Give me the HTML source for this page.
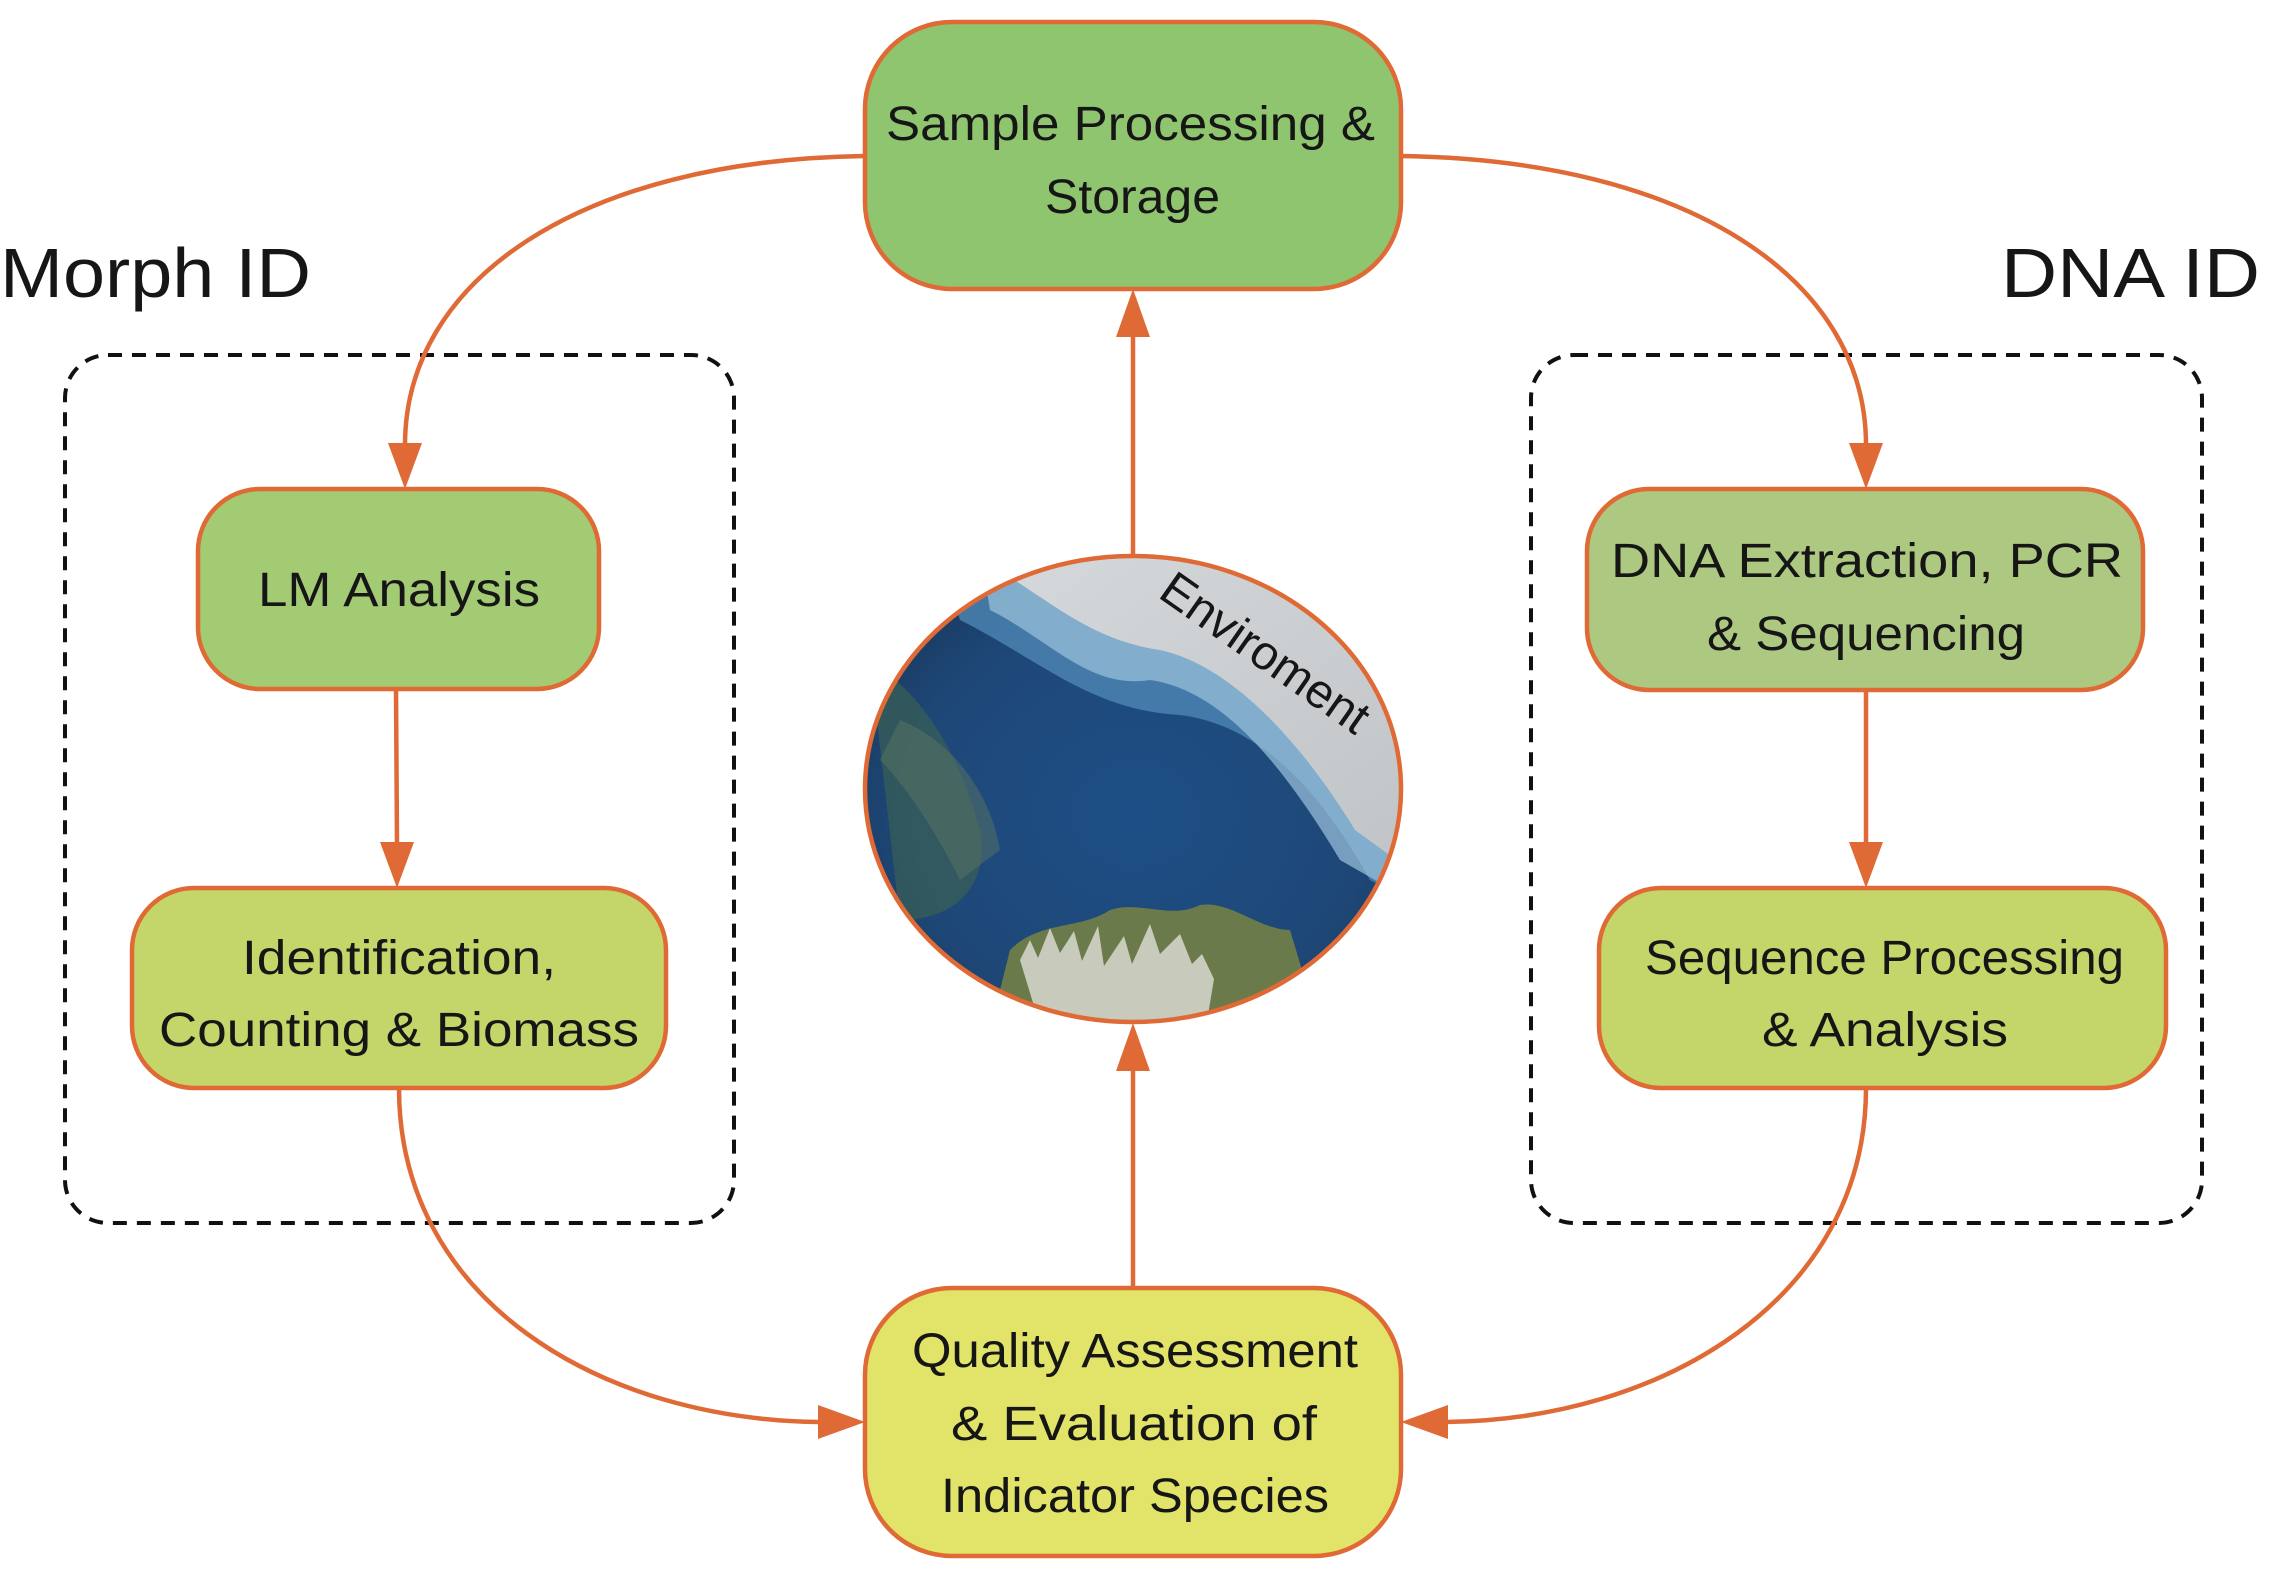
<!DOCTYPE html>
<html><head><meta charset="utf-8"><style>
html,body{margin:0;padding:0;background:#fff;}
svg{display:block;}
text{font-family:"Liberation Sans",sans-serif;fill:#161616;}
</style></head><body>
<svg width="2269" height="1575" viewBox="0 0 2269 1575" xmlns="http://www.w3.org/2000/svg">
<defs>
<clipPath id="cc"><ellipse cx="1133" cy="789" rx="268" ry="233"/></clipPath>
<radialGradient id="sea" cx="0.5" cy="0.55" r="0.6">
<stop offset="0" stop-color="#1d4f86"/><stop offset="0.7" stop-color="#1e4777"/><stop offset="1" stop-color="#17395c"/>
</radialGradient>
<linearGradient id="cloud" x1="0" y1="0" x2="1" y2="1">
<stop offset="0" stop-color="#d6d9db"/><stop offset="1" stop-color="#c0c4c7"/>
</linearGradient>
</defs>

<rect x="65" y="355" width="669" height="868" rx="43" fill="none" stroke="#111" stroke-width="4" stroke-dasharray="14,10"/>
<rect x="1531" y="355" width="671" height="868" rx="43" fill="none" stroke="#111" stroke-width="4" stroke-dasharray="14,10"/>

<text x="0" y="297" font-size="70" textLength="311" lengthAdjust="spacingAndGlyphs">Morph ID</text>
<text x="2001" y="297" font-size="70" textLength="259" lengthAdjust="spacingAndGlyphs">DNA ID</text>

<g stroke="#e06a35" stroke-width="4.5" fill="none">
<path d="M865,156 C580,160 405,280 405,445"/>
<path d="M1401,156 C1690,160 1866,280 1866,445"/>
<path d="M399,1088 C399,1300 600,1420 820,1422"/>
<path d="M1866,1088 C1866,1300 1660,1420 1446,1422"/>
<line x1="1133" y1="556" x2="1133" y2="335"/>
<line x1="1133" y1="1288" x2="1133" y2="1069"/>
<line x1="396" y1="689" x2="397" y2="845"/>
<line x1="1866" y1="690" x2="1866" y2="845"/>
</g>
<g fill="#e06a35">
<polygon points="405,489 388,443 422,443"/>
<polygon points="1866,489 1849,443 1883,443"/>
<polygon points="865,1422 818,1405 818,1439"/>
<polygon points="1401,1422 1448,1405 1448,1439"/>
<polygon points="1133,289 1116,337 1150,337"/>
<polygon points="1133,1023 1116,1071 1150,1071"/>
<polygon points="397,888 380,842 414,842"/>
<polygon points="1866,888 1849,842 1883,842"/>
</g>

<g clip-path="url(#cc)">
<rect x="860" y="550" width="550" height="480" fill="url(#sea)"/>
<path d="M870,660 C930,700 960,760 980,830 C990,880 960,920 900,920 Z" fill="#3a5f55" opacity="0.7"/>
<path d="M900,720 C950,740 990,790 1000,850 L960,880 C930,820 900,780 880,760Z" fill="#5a7462" opacity="0.5"/>
<path d="M960,620 C1040,660 1090,710 1180,715 C1260,725 1320,790 1370,880 L1410,900 L1410,550 L940,550 Z" fill="#4d86b4" opacity="0.8"/>
<path d="M990,610 C1050,640 1090,690 1150,680 C1220,690 1280,760 1340,860 L1410,900 L1410,550 L980,550 Z" fill="#9cc3dc" opacity="0.7"/>
<path d="M990,565 C1050,600 1090,640 1160,650 C1230,665 1300,740 1355,830 L1410,870 L1410,550 L980,550 Z" fill="url(#cloud)"/>
<path d="M1010,950 C1040,920 1080,930 1110,910 C1140,900 1170,920 1200,905 C1230,900 1260,930 1290,930 L1320,1030 L990,1030 Z" fill="#6b7a4a"/>
<path d="M1020,960 l10,-20 l8,18 l12,-30 l10,25 l14,-22 l8,30 l16,-35 l6,40 l20,-30 l8,28 l18,-40 l10,30 l20,-20 l12,30 l10,-10 l12,25 l-10,60 l-160,0Z" fill="#d8d8d0" opacity="0.85"/>
</g>
<ellipse cx="1133" cy="789" rx="268" ry="233" fill="none" stroke="#e06a35" stroke-width="4.5"/>
<text x="0" y="0" font-size="48" transform="translate(1256,666) rotate(35)" text-anchor="middle">Enviroment</text>

<g stroke="#e06a35" stroke-width="4.5">
<rect x="865" y="22" width="536" height="267" rx="87" fill="#8fc56f"/>
<rect x="198" y="489" width="401" height="200" rx="62" fill="#a3cb74"/>
<rect x="132" y="888" width="534" height="200" rx="62" fill="#c4d66a"/>
<rect x="1587" y="489" width="556" height="201" rx="62" fill="#adc981"/>
<rect x="1599" y="888" width="567" height="200" rx="62" fill="#c4d66a"/>
<rect x="865" y="1288" width="536" height="268" rx="87" fill="#e2e46a"/>
</g>

<g font-size="48">
<text x="886" y="140" textLength="489" lengthAdjust="spacingAndGlyphs">Sample Processing &amp;</text>
<text x="1045" y="213" textLength="175" lengthAdjust="spacingAndGlyphs">Storage</text>
<text x="258" y="606" textLength="282" lengthAdjust="spacingAndGlyphs">LM Analysis</text>
<text x="242" y="974" textLength="314" lengthAdjust="spacingAndGlyphs">Identification,</text>
<text x="159" y="1046" textLength="480" lengthAdjust="spacingAndGlyphs">Counting &amp; Biomass</text>
<text x="1611" y="577" textLength="512" lengthAdjust="spacingAndGlyphs">DNA Extraction, PCR</text>
<text x="1707" y="650" textLength="318" lengthAdjust="spacingAndGlyphs">&amp; Sequencing</text>
<text x="1645" y="974" textLength="479" lengthAdjust="spacingAndGlyphs">Sequence Processing</text>
<text x="1762" y="1046" textLength="246" lengthAdjust="spacingAndGlyphs">&amp; Analysis</text>
<text x="912" y="1367" textLength="446" lengthAdjust="spacingAndGlyphs">Quality Assessment</text>
<text x="951" y="1440" textLength="366" lengthAdjust="spacingAndGlyphs">&amp; Evaluation of</text>
<text x="941" y="1512" textLength="388" lengthAdjust="spacingAndGlyphs">Indicator Species</text>
</g>
</svg>
</body></html>
